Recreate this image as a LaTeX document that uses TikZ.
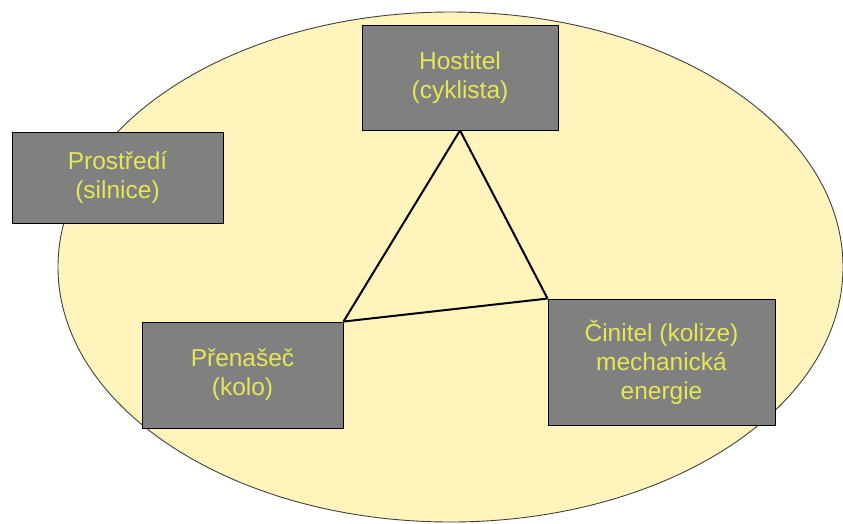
\documentclass[tikz,border=0pt]{standalone}
\usepackage{fontspec}
\setmainfont{Liberation Sans}
\definecolor{palecream}{RGB}{255,244,187}
\definecolor{boxgrey}{RGB}{128,128,128}
\definecolor{labelyellow}{RGB}{230,230,86}

\begin{document}
\begin{tikzpicture}[x=1pt,y=1pt,
  factor/.style={draw=black,line width=0.9pt,fill=boxgrey,text=labelyellow,
    align=center,inner sep=0pt,font=\fontsize{24.5}{29}\selectfont}]
\useasboundingbox (0,0) rectangle (843,-523);
\draw [black!75,line width=0.9pt,fill=palecream] (450.5,-267) ellipse [x radius=392.5, y radius=255];
\node [factor,minimum width=211pt,minimum height=91pt] (prostredi) at (117.5,-177.5) {Prostředí\\(silnice)};
\node [factor,minimum width=196pt,minimum height=105pt] (hostitel) at (460,-77.5) {Hostitel\\(cyklista)};
\node [factor,minimum width=201pt,minimum height=106pt] (prenasec) at (242.5,-375) {Přenašeč\\(kolo)};
\node [factor,minimum width=227pt,minimum height=126pt] (cinitel) at (661.5,-362) {Činitel (kolize)\\mechanická\\energie};
\draw [black,line width=2pt] (hostitel.south) -- (prenasec.north east);
\draw [black,line width=2pt] (hostitel.south) -- (cinitel.north west);
\draw [black,line width=2pt] (prenasec.north east) -- (cinitel.north west);
\end{tikzpicture}
\end{document}
